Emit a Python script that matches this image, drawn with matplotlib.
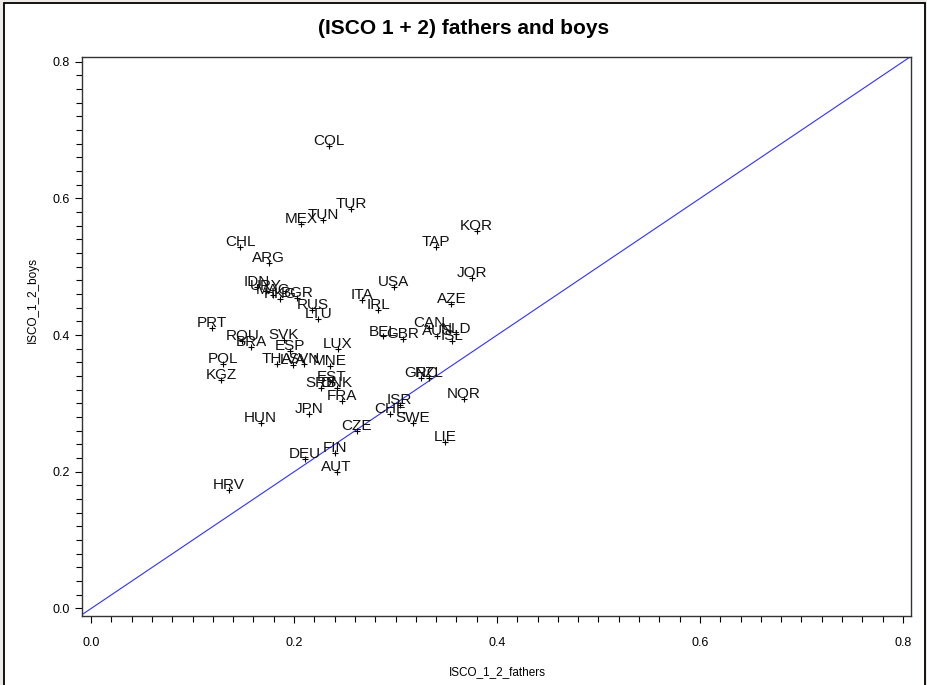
""" ISCO 1+2 scatter: share of fathers vs share of boys, one label per country,
with the y = x reference line.
"""

import matplotlib
matplotlib.use("Agg")
import matplotlib.pyplot as plt
from matplotlib.patches import Rectangle
from matplotlib.ticker import MultipleLocator

countries = ["COL", "TUR", "TUN", "MEX", "CHL", "ARG", "IDN", "URY", "MAC", "HKG",
             "BGR", "RUS", "LTU", "USA", "ITA", "IRL", "TAP", "KOR", "JOR", "AZE",
             "PRT", "ROU", "BRA", "SVK", "ESP", "THA", "LVA", "SVN", "MNE", "LUX",
             "POL", "KGZ", "SRB", "EST", "DNK", "FRA", "JPN", "HUN", "CZE", "FIN",
             "DEU", "AUT", "HRV", "BEL", "GBR", "CAN", "AUS", "NLD", "ISL", "GRC",
             "NZL", "NOR", "LIE", "SWE", "CHE", "ISR"]
fathers = [0.234, 0.256, 0.229, 0.207, 0.147, 0.175, 0.163, 0.172, 0.179, 0.186,
           0.203, 0.218, 0.224, 0.298, 0.267, 0.283, 0.340, 0.380, 0.375, 0.355,
           0.119, 0.149, 0.158, 0.190, 0.196, 0.183, 0.199, 0.210, 0.235, 0.243,
           0.130, 0.128, 0.227, 0.237, 0.242, 0.247, 0.215, 0.167, 0.262, 0.240,
           0.211, 0.242, 0.136, 0.288, 0.307, 0.333, 0.341, 0.360, 0.356, 0.325,
           0.333, 0.367, 0.349, 0.317, 0.295, 0.304]
boys = [0.677, 0.585, 0.569, 0.562, 0.529, 0.505, 0.470, 0.464, 0.459, 0.453,
        0.455, 0.437, 0.424, 0.471, 0.451, 0.437, 0.529, 0.553, 0.483, 0.446,
        0.410, 0.392, 0.382, 0.393, 0.377, 0.358, 0.357, 0.358, 0.355, 0.379,
        0.358, 0.335, 0.322, 0.331, 0.322, 0.304, 0.284, 0.271, 0.259, 0.228,
        0.219, 0.199, 0.173, 0.398, 0.395, 0.411, 0.399, 0.401, 0.391, 0.338,
        0.338, 0.306, 0.243, 0.272, 0.285, 0.298]

W, H = 928, 685
fig = plt.figure(figsize=(W / 100, H / 100), dpi=100)
fig.patch.set_facecolor("#eeeae8")
# white page with a black border
fig.add_artist(Rectangle((4 / W, -0.01), 921 / W, 1 - 3 / H + 0.01,
                         transform=fig.transFigure, facecolor="white",
                         edgecolor="black", lw=1.3, zorder=-1))

ax = fig.add_axes([82 / W, 1 - 616 / H, (911 - 82) / W, (616 - 57) / H])
ax.set_xlim(-0.009, 0.808)
ax.set_ylim(-0.011, 0.807)

# y = x reference
ax.plot([-1, 1], [-1, 1], color="#3030ff", lw=0.8)

ax.plot(fathers, boys, "+", color="black", ms=5, mew=0.8)
for name, x, y in zip(countries, fathers, boys):
    ax.annotate(name, (x, y), xytext=(0, 1), textcoords="offset pixels",
                ha="center", va="baseline", fontsize=11,
                family="Liberation Sans", color="#111111")

ax.xaxis.set_major_locator(MultipleLocator(0.2))
ax.yaxis.set_major_locator(MultipleLocator(0.2))
ax.xaxis.set_minor_locator(MultipleLocator(0.02))
ax.yaxis.set_minor_locator(MultipleLocator(0.02))
ax.tick_params(which="major", length=5, width=0.8, labelsize=9, pad=4)
ax.tick_params(axis="x", which="major", pad=10)
ax.tick_params(which="minor", length=4, width=0.8)
for lab in ax.get_xticklabels() + ax.get_yticklabels():
    lab.set_family("Liberation Sans")
for sp in ax.spines.values():
    sp.set_color("#333333")
    sp.set_linewidth(1.0)

fig.text(0.5, 1 - 28 / H, "(ISCO 1 + 2) fathers and boys", ha="center",
         va="center", fontsize=15, fontweight="bold", family="Liberation Sans")
fig.text(497 / W, 1 - 672 / H, "ISCO_1_2_fathers", ha="center", va="center",
         fontsize=8.5, family="Liberation Sans")
fig.text(33 / W, 1 - 300 / H, "ISCO_1_2_boys", ha="center", va="center",
         rotation=90, fontsize=8.5, family="Liberation Sans")

fig.savefig("out.png", dpi=100)
